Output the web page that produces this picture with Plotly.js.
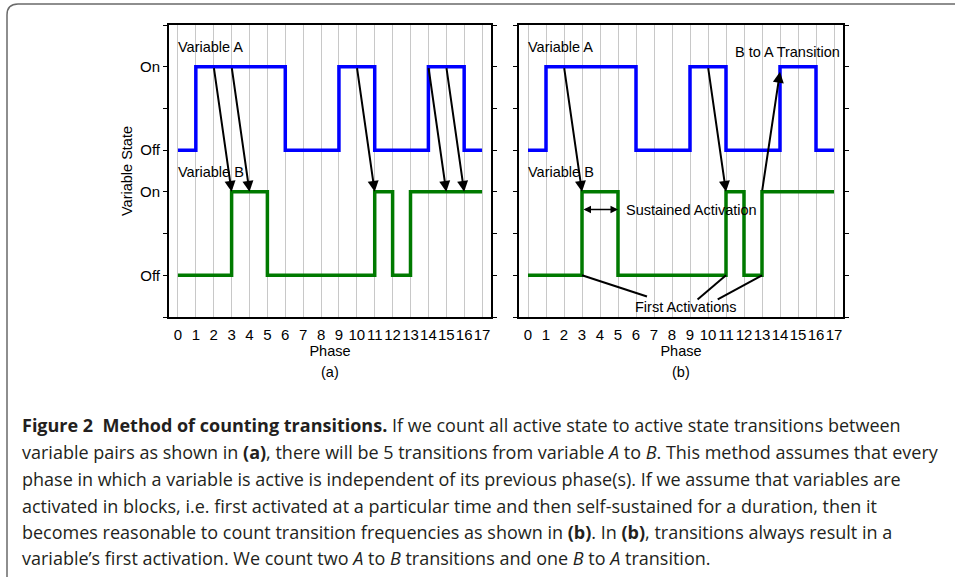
<!DOCTYPE html>
<html>
<head>
<meta charset="utf-8">
<script src="https://cdn.plot.ly/plotly-3.0.1.min.js"></script>
<style>
  html, body { margin: 0; padding: 0; background: #fff; }
  #chart { width: 955px; height: 577px; }
</style>
</head>
<body>
<div id="chart"></div>
<script>
// ---------------- data ----------------
const phases = [0,1,2,3,4,5,6,7,8,9,10,11,12,13,14,15,16,17];
const stateA = [0,1,1,1,1,1,0,0,0,1,1,0,0,0,1,1,0,0];
const stateB = [0,0,0,1,1,0,0,0,0,0,0,1,0,1,1,1,1,1];
// y-position of Off / On for each variable on the shared state axis
const levelA = {off: 4, on: 6};
const levelB = {off: 1, on: 3};
const yTickVals = [0,1,2,3,4,5,6,7];
const yTickText = ['', 'Off', '', 'On', 'Off', '', 'On', ''];
// transitions: [phase of A activation, phase of B activation]
const transitionsA = [[2,3],[3,4],[10,11],[14,15],[15,16]];
const transitionsB_AtoB = [[2,3],[10,11]];
const transitionsB_BtoA = [[13,14]];
const sustained = [3,5];
const firstActivations = [3,11,13];
const captionLines = [
  '<b>Figure 2\u00a0\u00a0Method of counting transitions.</b> If we count all active state to active state transitions between',
  'variable pairs as shown in <b>(a)</b>, there will be 5 transitions from variable <i>A</i> to <i>B</i>. This method assumes that every',
  'phase in which a variable is active is independent of its previous phase(s). If we assume that variables are',
  'activated in blocks, i.e. first activated at a particular time and then self-sustained for a duration, then it',
  'becomes reasonable to count transition frequencies as shown in <b>(b)</b>. In <b>(b)</b>, transitions always result in a',
  'variable\u2019s first activation. We count two <i>A</i> to <i>B</i> transitions and one <i>B</i> to <i>A</i> transition.'
];

// ---------------- layout helpers ----------------
const W = 955, H = 577;
const px = v => v / W;
const py = v => 1 - v / H;
const FONT = 'Liberation Sans, Arial, Helvetica, sans-serif';
const FS = 14.5;
const TFS = 15;
const yA = stateA.map(s => s ? levelA.on : levelA.off);
const yB = stateB.map(s => s ? levelB.on : levelB.off);

const traces = [];
[['x','y'],['x2','y2']].forEach(([xa, ya]) => {
  traces.push({x: phases, y: yA, xaxis: xa, yaxis: ya, type: 'scatter', mode: 'lines',
    line: {shape: 'hv', color: '#0000ff', width: 3.5}, hoverinfo: 'skip', showlegend: false});
  traces.push({x: phases, y: yB, xaxis: xa, yaxis: ya, type: 'scatter', mode: 'lines',
    line: {shape: 'hv', color: '#007a00', width: 3.5}, hoverinfo: 'skip', showlegend: false});
});

function xAxis(domain) {
  return {
    domain: domain, range: [-0.5, 17.5], tickvals: phases, ticktext: phases.map(String),
    tickangle: 0,
    showgrid: true, gridcolor: '#c8c8c8', gridwidth: 1, zeroline: false,
    showline: true, linecolor: '#000', linewidth: 2, mirror: true, ticks: '',
    ticklabelstandoff: 3,
    tickfont: {family: FONT, size: TFS, color: '#000'},
    title: {text: 'Phase', font: {family: FONT, size: FS, color: '#000'}, standoff: 1},
    fixedrange: true
  };
}
function yAxis(showLabels, anchor) {
  const ax = {
    domain: [1 - 317 / H, 1 - 25 / H], range: [0, 7], tickvals: yTickVals, ticktext: yTickText,
    showticklabels: showLabels, showgrid: false, zeroline: false,
    showline: true, linecolor: '#000', linewidth: 2, mirror: 'ticks', ticks: 'outside',
    ticklen: 4, tickwidth: 1, tickcolor: '#000',
    tickfont: {family: FONT, size: TFS, color: '#000'}, fixedrange: true, anchor: anchor
  };
  if (showLabels) ax.title = {text: 'Variable State', font: {family: FONT, size: FS, color: '#000'}, standoff: 4};
  return ax;
}

const annotations = [];
const shapes = [];
function textAnn(xref, yref, x, y, text, xanchor) {
  annotations.push({xref: xref, yref: yref, x: x, y: y, text: text, showarrow: false,
    xanchor: xanchor || 'left', yanchor: 'middle', font: {family: FONT, size: FS, color: '#000'}});
}
function arrow(xref, yref, x0, y0, x1, y1) {
  annotations.push({xref: xref, yref: yref, axref: xref, ayref: yref, x: x1, y: y1, ax: x0, ay: y0,
    text: '', showarrow: true, arrowhead: 2, arrowsize: 1.1, arrowwidth: 2, arrowcolor: '#000', standoff: 0});
}

// panel (a)
textAnn('x', 'y', -0.1, 6.48, 'Variable A');
textAnn('x', 'y', -0.1, 3.47, 'Variable B');
transitionsA.forEach(([a, b]) => arrow('x', 'y', a, levelA.on, b, levelB.on));

// panel (b)
textAnn('x2', 'y2', -0.1, 6.48, 'Variable A');
textAnn('x2', 'y2', -0.1, 3.47, 'Variable B');
transitionsB_AtoB.forEach(([a, b]) => arrow('x2', 'y2', a, levelA.on, b, levelB.on));
transitionsB_BtoA.forEach(([b, a]) => arrow('x2', 'y2', b, levelB.on, a, levelA.on - 0.12));
textAnn('x2', 'y2', 14.4, 6.35, 'B to A Transition', 'center');
annotations.push({xref: 'x2', yref: 'y2', axref: 'x2', ayref: 'y2', x: sustained[1], y: 2.58, ax: sustained[0], ay: 2.58,
  text: '', showarrow: true, arrowhead: 2, startarrowhead: 2, arrowside: 'end+start', arrowsize: 1, startarrowsize: 1,
  arrowwidth: 1.5, arrowcolor: '#000', standoff: 0, startstandoff: 0});
textAnn('x2', 'y2', 5.35, 2.57, 'Sustained Activation');
textAnn('x2', 'y2', 8.76, 0.25, 'First Activations', 'center');
const faEnds = [[6.61, 0.49], [9.42, 0.42], [10.54, 0.42]];
firstActivations.forEach((p, i) => shapes.push({type: 'line', xref: 'x2', yref: 'y2',
  x0: p, y0: levelB.off, x1: faEnds[i][0], y1: faEnds[i][1], line: {color: '#000', width: 2}}));

// sub-panel labels
annotations.push({xref: 'paper', yref: 'paper', x: px(330), y: py(372), text: '(a)', showarrow: false,
  xanchor: 'center', yanchor: 'middle', font: {family: FONT, size: FS, color: '#000'}});
annotations.push({xref: 'paper', yref: 'paper', x: px(681), y: py(372), text: '(b)', showarrow: false,
  xanchor: 'center', yanchor: 'middle', font: {family: FONT, size: FS, color: '#000'}});

// caption
const capY = [425, 452, 479, 505.5, 532, 558];
captionLines.forEach((t, i) => annotations.push({xref: 'paper', yref: 'paper', x: px(20), y: py(capY[i]),
  text: t, showarrow: false, xanchor: 'left', yanchor: 'middle', align: 'left',
  font: {family: 'Open Sans, Noto Sans, sans-serif', size: 18, color: '#231f20'}}));

// rounded frame around the figure
shapes.push({type: 'path', xref: 'paper', yref: 'paper', layer: 'below',
  path: `M ${px(7)} ${py(580)} L ${px(7)} ${py(15)} Q ${px(7)} ${py(4)} ${px(18)} ${py(4)} L ${px(960)} ${py(4)}`,
  line: {color: '#6a6a6a', width: 1.5}});

const layout = {
  width: W, height: H, margin: {l: 0, r: 0, t: 0, b: 0},
  paper_bgcolor: '#fff', plot_bgcolor: '#fff', showlegend: false,
  xaxis: xAxis([169 / W, 491 / W]),
  yaxis: yAxis(true, 'x'),
  xaxis2: xAxis([519 / W, 843 / W]),
  yaxis2: yAxis(false, 'x2'),
  annotations: annotations, shapes: shapes
};
layout.xaxis.anchor = 'y';
layout.xaxis2.anchor = 'y2';

Plotly.newPlot('chart', traces, layout, {staticPlot: true, displayModeBar: false});
</script>
</body>
</html>
